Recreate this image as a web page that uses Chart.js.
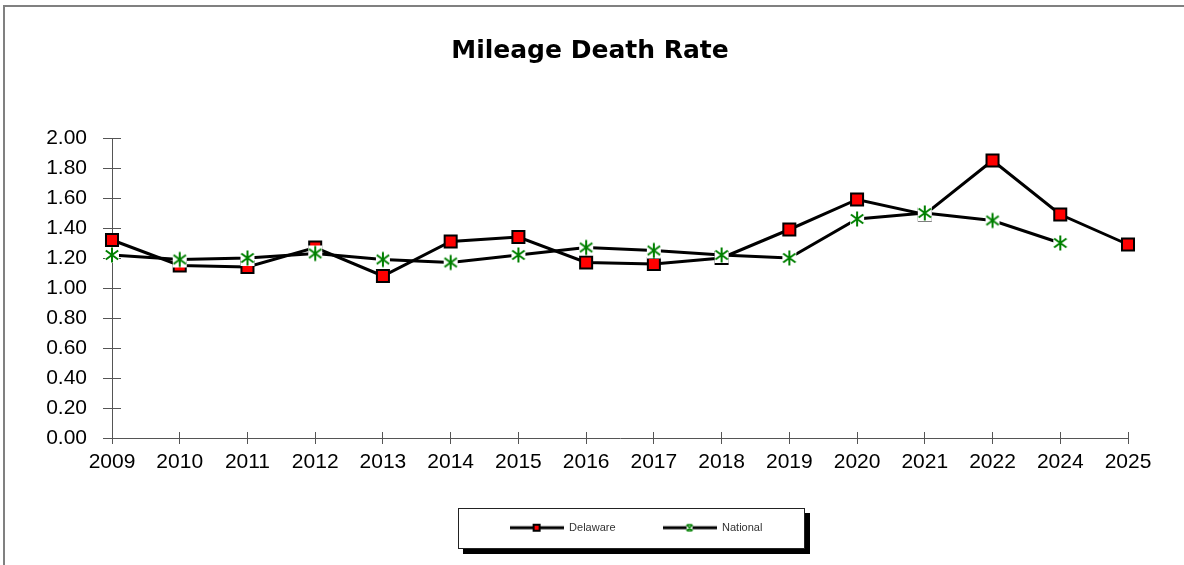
<!DOCTYPE html>
<html><head><meta charset="utf-8">
<script src="https://cdn.jsdelivr.net/npm/chart.js@4.4.1/dist/chart.umd.min.js"></script>
<style>html,body{margin:0;padding:0;background:#fff;overflow:hidden}canvas{display:block}</style>
</head><body>
<canvas id="c" width="1184" height="565"></canvas>
<script>
// ---- data ----
const years = ['2009','2010','2011','2012','2013','2014','2015','2016','2017','2018','2019','2020','2021','2022','2024','2025'];
const delaware = [1.32, 1.15, 1.14, 1.27, 1.08, 1.31, 1.34, 1.17, 1.16, 1.20, 1.39, 1.59, 1.49, 1.85, 1.49, 1.29];
const national = [1.22, 1.19, 1.20, 1.23, 1.19, 1.17, 1.22, 1.27, 1.25, 1.22, 1.20, 1.46, 1.50, 1.45, 1.30, null];
const yTickLabels = ['0.00','0.20','0.40','0.60','0.80','1.00','1.20','1.40','1.60','1.80','2.00'];
const seriesNames = ['Delaware', 'National'];
const chartTitle = 'Mileage Death Rate';

// ---- styles ----
const FONT = "'Liberation Sans', Arial, sans-serif";
const TITLE_FONT = "'DejaVu Sans', 'Liberation Sans', sans-serif";
const AXIS = '#555555';

function asteriskMarker() {
  const c = document.createElement('canvas'); c.width = 16; c.height = 18;
  const g = c.getContext('2d');
  g.fillStyle = '#fff'; g.fillRect(1, 1, 14, 16);
  g.strokeStyle = '#008000'; g.lineWidth = 2; g.lineCap = 'butt';
  g.beginPath();
  g.moveTo(8, 1.5); g.lineTo(8, 16.5);
  g.moveTo(1.8, 4.5); g.lineTo(14.2, 13.5);
  g.moveTo(14.2, 4.5); g.lineTo(1.8, 13.5);
  g.stroke();
  return c;
}
function legendSample(kind) {
  const c = document.createElement('canvas'); c.width = 54; c.height = 10;
  const g = c.getContext('2d');
  g.strokeStyle = '#000'; g.lineWidth = 3;
  g.beginPath(); g.moveTo(0, 5); g.lineTo(54, 5); g.stroke();
  if (kind === 0) {
    g.fillStyle = '#000'; g.fillRect(23, 1, 8, 8);
    g.fillStyle = '#ff0000'; g.fillRect(25, 3, 4, 4);
  } else {
    g.fillStyle = '#fff'; g.fillRect(24, 1, 6, 8);
    g.strokeStyle = '#008000'; g.lineWidth = 1.6;
    g.beginPath();
    g.moveTo(24, 2); g.lineTo(30, 8); g.moveTo(30, 2); g.lineTo(24, 8);
    g.moveTo(24.5, 2); g.lineTo(29.5, 2); g.moveTo(24.5, 8); g.lineTo(29.5, 8);
    g.stroke();
  }
  return c;
}
const legendImgs = [legendSample(0), legendSample(1)];

const decor = {
  id: 'decor',
  afterLayout(chart) {
    const lg = chart.legend;
    lg.left += 16; lg.right += 16;
    lg.top -= 6; lg.bottom -= 6;
    const tb = chart.titleBlock;
    tb.left += 26; tb.right += 26;
  },
  beforeDraw(chart) {
    const ctx = chart.ctx;
    ctx.save();
    ctx.fillStyle = '#fff'; ctx.fillRect(0, 0, chart.width, chart.height);
    // outer frame (top + left visible)
    ctx.strokeStyle = '#808080'; ctx.lineWidth = 2;
    ctx.beginPath(); ctx.moveTo(4, chart.height); ctx.lineTo(4, 6); ctx.lineTo(chart.width, 6); ctx.stroke();
    // legend frame with shadow
    const lg = chart.legend; const p = lg.options.labels.padding;
    const fs = lg.options.labels.font.size;
    const start = (lg.left + p + lg.right - lg.lineWidths[0]) / 2;
    const end = start + lg.lineWidths[0] - p;
    const cy = lg.top + p + fs / 2;
    const bx = Math.round(start - 52), by = Math.round(cy - 20);
    const bw = Math.round(end + 42 - bx), bh = 40;
    ctx.fillStyle = '#000'; ctx.fillRect(bx + 5, by + 5, bw + 1, bh + 1);
    ctx.fillStyle = '#fff'; ctx.fillRect(bx, by, bw, bh);
    ctx.strokeStyle = '#222'; ctx.lineWidth = 1; ctx.strokeRect(bx + 0.5, by + 0.5, bw, bh);
    ctx.restore();
  },
  beforeDatasetsDraw(chart) {
    const {ctx, chartArea: ca, scales: {x, y}} = chart;
    const al = (v) => Math.round(v - 0.5) + 0.5;
    ctx.save(); ctx.strokeStyle = AXIS; ctx.lineWidth = 1;
    ctx.beginPath();
    x.ticks.forEach((t, i) => { const px = al(x.getPixelForTick(i)); ctx.moveTo(px, ca.bottom); ctx.lineTo(px, ca.bottom - 6); });
    y.ticks.forEach((t, i) => { const py = al(y.getPixelForTick(i)); ctx.moveTo(ca.left, py); ctx.lineTo(ca.left + 9, py); });
    ctx.stroke(); ctx.restore();
  }
};

new Chart(document.getElementById('c'), {
  type: 'line',
  data: {
    labels: years,
    datasets: [
      { label: seriesNames[0], data: delaware, borderColor: '#000', borderWidth: 3, tension: 0,
        pointStyle: 'rect', pointRadius: 8.5, pointBackgroundColor: '#ff0000', pointBorderColor: '#000',
        pointBorderWidth: 2, order: 2, clip: false },
      { label: seriesNames[1], data: national, borderColor: '#000', borderWidth: 3, tension: 0,
        pointStyle: asteriskMarker(), pointRadius: 8, order: 1, clip: false }
    ]
  },
  options: {
    responsive: false, animation: false, events: [],
    layout: { padding: { left: 0, right: 56, top: 0, bottom: 15.8 } },
    plugins: {
      tooltip: { enabled: false },
      title: { display: true, text: chartTitle, color: '#000',
        font: { family: TITLE_FONT, size: 25, weight: 'bold', lineHeight: 1.2 }, padding: { top: 36, bottom: 72 } },
      legend: {
        display: true, position: 'bottom', fullSize: false,
        labels: {
          usePointStyle: true, pointStyleWidth: 54, padding: 47, color: '#333',
          font: { family: FONT, size: 11 },
          sort: (a, b) => a.datasetIndex - b.datasetIndex,
          generateLabels(chart) {
            const items = Chart.defaults.plugins.legend.labels.generateLabels(chart);
            items.forEach(it => { it.pointStyle = legendImgs[it.datasetIndex]; });
            return items;
          }
        }
      }
    },
    scales: {
      x: {
        type: 'category', offset: false,
        grid: { display: true, drawOnChartArea: false, drawTicks: true, tickLength: 6, color: AXIS, lineWidth: 1 },
        border: { display: true, color: AXIS, width: 1 },
        ticks: { color: '#000', font: { family: FONT, size: 21 }, padding: 6, maxRotation: 0, autoSkip: false }
      },
      y: {
        min: 0, max: 2,
        grid: { display: true, drawOnChartArea: false, drawTicks: true, tickLength: 9, color: AXIS, lineWidth: 1 },
        border: { display: true, color: AXIS, width: 1 },
        ticks: { stepSize: 0.2, color: '#000', font: { family: FONT, size: 21 }, padding: 16,
          callback: (v, i) => yTickLabels[i] },
        afterFit(scale) { scale.width = 112; }
      }
    }
  },
  plugins: [decor]
});
</script>
</body></html>
